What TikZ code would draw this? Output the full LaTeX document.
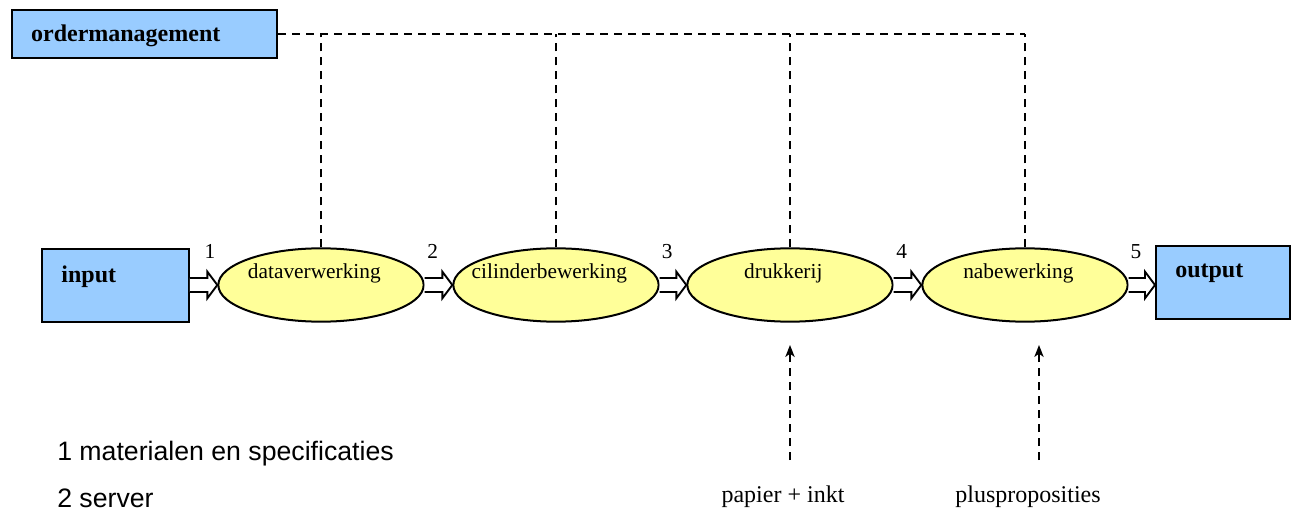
\documentclass[tikz,border=0pt]{standalone}
\usepackage{fontspec}
\setmainfont{Liberation Serif}
\newfontfamily\legendfont{Liberation Sans}
\usetikzlibrary{arrows}
\usetikzlibrary{arrows.meta}
\usetikzlibrary{shapes.geometric}
\usetikzlibrary{calc}

\definecolor{boxblue}{HTML}{99CCFF}
\definecolor{procyellow}{HTML}{FFFF99}

\tikzset{
  boxnode/.style={draw, line width=1.5pt, fill=boxblue, inner sep=0pt},
  boxtext/.style={font=\fontsize{18}{22}\selectfont\bfseries, anchor=base west, inner sep=0pt, xshift=15pt},
  proc/.style={ellipse, draw, line width=1.5pt, fill=procyellow, minimum width=154pt, minimum height=55pt, inner sep=0pt},
  proctext/.style={font=\fontsize{16}{19}\selectfont, yshift=8.5pt, xshift=-5pt},
  % hollow block arrow between two nodes
  flow/.style={draw, fill=white, line width=1.4pt, line join=miter, to path={
      let \p1=(\tikztostart), \p2=(\tikztotarget) in
      (\x1,\y1+5.25pt) -- (\x2-7.5pt,\y1+5.25pt) \tikztonodes
      -- (\x2-7.5pt,\y1+10pt) -- (\x2,\y1) -- (\x2-7.5pt,\y1-10pt)
      -- (\x2-7.5pt,\y1-5.25pt) -- (\x1,\y1-5.25pt)}},
  stepnum/.style={font=\fontsize{16}{19}\selectfont, above=10.5pt},
  ordline/.style={line width=1.1pt, dash pattern=on 6pt off 4.5pt},
  feed/.style={ordline, -{Stealth[length=9pt, width=7pt, inset=2.5pt]}},
  legend/.style={font=\legendfont\fontsize{20}{24}\selectfont, anchor=west, inner sep=0pt},
  source/.style={font=\fontsize{18}{22}\selectfont}
}

\begin{document}
\begin{tikzpicture}[x=0.75pt, y=-0.75pt]
    
    \useasboundingbox (0,0) rectangle (1292,513);
    
    % boxes
    \node[boxnode, minimum width=199pt, minimum height=36pt,
          label={[boxtext, yshift=-6pt]west:ordermanagement}] (om) at (144.5,34) {};
    \node[boxnode, minimum width=110pt, minimum height=54pt,
          label={[boxtext, yshift=1.9pt]west:input}] (in) at (115.5,285.5) {};
    \node[boxnode, minimum width=100.5pt, minimum height=55pt,
          label={[boxtext, yshift=3.4pt]west:output}] (out) at (1223,282.5) {};
    
    % processes
    \foreach \nm/\xc/\txt in {dv/321/dataverwerking, cb/556/cilinderbewerking,
                              dk/790/drukkerij, nb/1025/nabewerking}
        \node[proc, label={[proctext]center:\txt}] (\nm) at (\xc,285) {};
    
    % order management lines
    \coordinate (omend) at (nb.north |- om.east);
    \draw[ordline] (om.east) -- (omend);
    \foreach \nm in {dv,cb,dk,nb}
        \draw[ordline] (\nm.north) -- (\nm.north |- om.east);
    
    % flow
    \draw[flow] (in.east |- dv.west) to node[stepnum, pos=1, xshift=2pt] (s1) {1} (dv.west);
    \draw[flow] (dv.east) to node[stepnum, pos=0.45] (s2) {2} (cb.west);
    \draw[flow] (cb.east) to node[stepnum, pos=0.45] (s3) {3} (dk.west);
    \draw[flow] (dk.east) to node[stepnum, pos=0.45] (s4) {4} (nb.west);
    \draw[flow] (nb.east) to node[stepnum, pos=0.45] (s5) {5} (nb.east -| out.west);
    
    % supplies
    \node[source] (pap) at (783,497) {papier + inkt};
    \node[source] (plus) at (1028,497) {plusproposities};
    \coordinate (papstart) at (790,460);
    \coordinate (papend) at (790,345);
    \coordinate (plusstart) at (1039,460);
    \coordinate (plusend) at (1039,345);
    \draw[feed] (papstart) -- (papend);
    \draw[feed] (plusstart) -- (plusend);
    
    % legend
    \node[legend] (leg1) at (57,454) {1 materialen en specificaties};
    \node[legend] (leg2) at (57,498) {2 server};
    
\end{tikzpicture}
\end{document}
